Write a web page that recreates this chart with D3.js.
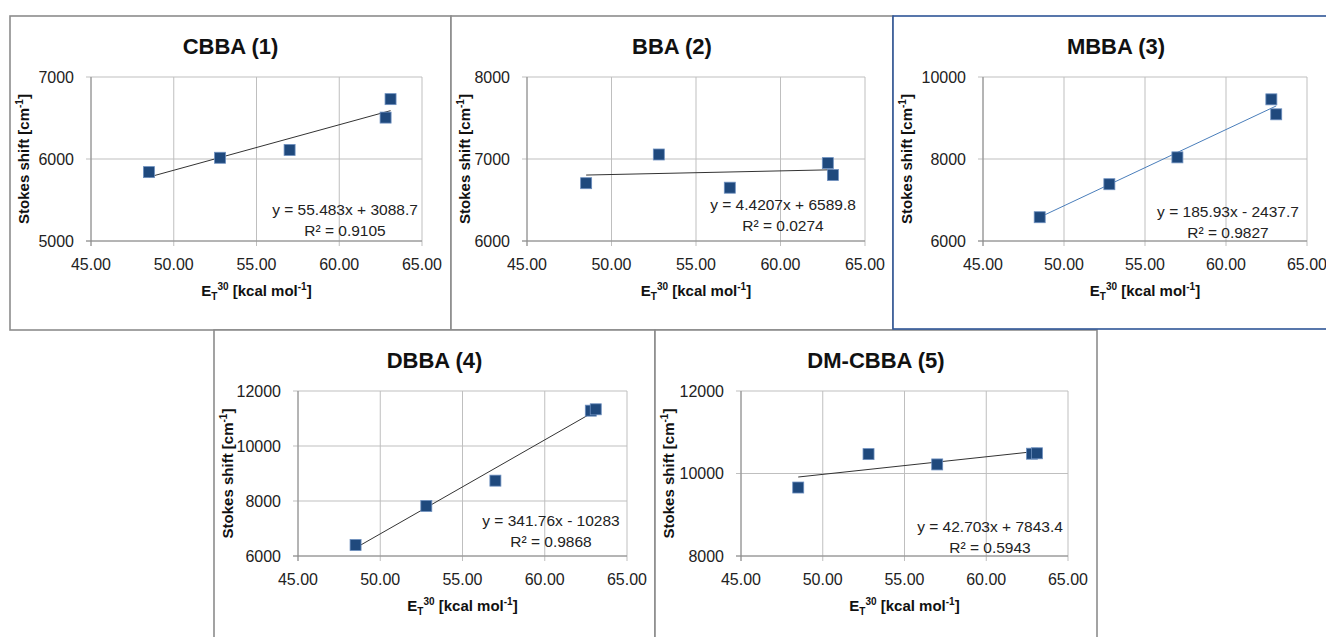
<!DOCTYPE html>
<html>
<head>
<meta charset="utf-8">
<script src="https://cdn.jsdelivr.net/npm/d3@7"></script>
<style>
  html, body { margin: 0; padding: 0; background: #fff; }
  svg { display: block; font-family: "Liberation Sans", Arial, sans-serif; }
</style>
</head>
<body>
<div id="chart"></div>
<script>
// Data
const et30 = [48.5, 52.8, 57.0, 62.8, 63.1];
const titles = ['CBBA (1)', 'BBA (2)', 'MBBA (3)', 'DBBA (4)', 'DM-CBBA (5)'];
const shiftCBBA = [5840, 6015, 6110, 6505, 6730];
const shiftBBA = [6705, 7055, 6650, 6950, 6805];
const shiftMBBA = [6580, 7385, 8040, 9455, 9090];
const shiftDBBA = [6400, 7820, 8740, 11285, 11335];
const shiftDMCBBA = [9660, 10470, 10220, 10480, 10490];
const slopes = [55.483, 4.4207, 185.93, 341.76, 42.703];
const intercepts = [3088.7, 6589.8, -2437.7, -10283, 7843.4];
const eqLabels = ['y = 55.483x + 3088.7', 'y = 4.4207x + 6589.8', 'y = 185.93x - 2437.7',
                  'y = 341.76x - 10283', 'y = 42.703x + 7843.4'];
const r2Labels = ['R² = 0.9105', 'R² = 0.0274', 'R² = 0.9827', 'R² = 0.9868', 'R² = 0.5943'];
const xTicks = [45, 50, 55, 60, 65];
const yTicks = [
    [5000, 6000, 7000],
    [6000, 7000, 8000],
    [6000, 8000, 10000],
    [6000, 8000, 10000, 12000],
    [8000, 10000, 12000]
];
const series = [shiftCBBA, shiftBBA, shiftMBBA, shiftDBBA, shiftDMCBBA];

// Layout of the five chart boxes (panel box, plot area, label offset)
const layout = [
    { box: [10, 16, 441, 314], plot: [91, 77, 331, 164], eq: [254, 138], border: '#8c8c8c', trend: '#333' },
    { box: [451, 16, 442, 314], plot: [527, 77, 338, 164], eq: [256, 133], border: '#8c8c8c', trend: '#333' },
    { box: [893, 16, 440, 313], plot: [983, 77, 324, 164], eq: [245, 140], border: '#2f5597', trend: '#4a7ebb' },
    { box: [214, 330, 441, 312], plot: [298, 391, 329, 165], eq: [253, 135], border: '#8c8c8c', trend: '#333' },
    { box: [655, 330, 442, 312], plot: [741, 391, 327, 165], eq: [249, 141], border: '#8c8c8c', trend: '#333' }
];

const W = 1326, H = 637;
const svg = d3.select('#chart')
    .append('svg')
    .attr('width', W)
    .attr('height', H);

const drawOrder = [0, 1, 3, 4, 2];

drawOrder.forEach(i => {
    const L = layout[i];
    const [bx, by, bw, bh] = L.box;
    const [px, py, pw, ph] = L.plot;
    const g = svg.append('g');

    // panel frame
    g.append('rect')
        .attr('x', bx).attr('y', by)
        .attr('width', bw).attr('height', bh)
        .attr('fill', '#fff')
        .attr('stroke', L.border)
        .attr('stroke-width', 1.6);

    const x = d3.scaleLinear().domain([45, 65]).range([px, px + pw]);
    const yd = yTicks[i];
    const y = d3.scaleLinear().domain([yd[0], yd[yd.length - 1]]).range([py + ph, py]);

    // gridlines
    g.append('g')
        .selectAll('line.gx')
        .data(xTicks)
        .join('line')
        .attr('x1', d => x(d)).attr('x2', d => x(d))
        .attr('y1', py).attr('y2', py + ph + 5)
        .attr('stroke', '#bfbfbf').attr('stroke-width', 1);
    g.append('g')
        .selectAll('line.gy')
        .data(yd)
        .join('line')
        .attr('x1', px - 5).attr('x2', px + pw)
        .attr('y1', d => y(d)).attr('y2', d => y(d))
        .attr('stroke', '#bfbfbf').attr('stroke-width', 1);

    // axis lines
    g.append('line')
        .attr('x1', px).attr('x2', px).attr('y1', py).attr('y2', py + ph + 5)
        .attr('stroke', '#8a8a8a');
    g.append('line')
        .attr('x1', px - 5).attr('x2', px + pw).attr('y1', py + ph).attr('y2', py + ph)
        .attr('stroke', '#8a8a8a');

    // tick labels
    g.selectAll('text.xt')
        .data(xTicks)
        .join('text')
        .attr('x', d => x(d))
        .attr('y', py + ph + 29)
        .attr('text-anchor', 'middle')
        .attr('font-size', 16)
        .attr('fill', '#222')
        .text(d => d3.format('.2f')(d));
    g.selectAll('text.yt')
        .data(yd)
        .join('text')
        .attr('x', px - 17)
        .attr('y', d => y(d))
        .attr('dy', '0.36em')
        .attr('text-anchor', 'end')
        .attr('font-size', 16)
        .attr('fill', '#222')
        .text(d => d);

    // trendline from the fitted equation
    const xr = d3.extent(et30);
    g.append('line')
        .attr('x1', x(xr[0])).attr('y1', y(slopes[i] * xr[0] + intercepts[i]))
        .attr('x2', x(xr[1])).attr('y2', y(slopes[i] * xr[1] + intercepts[i]))
        .attr('stroke', L.trend)
        .attr('stroke-width', 1);

    // markers
    const s = 11;
    g.selectAll('rect.pt')
        .data(et30.map((e, k) => [e, series[i][k]]))
        .join('rect')
        .attr('x', d => x(d[0]) - s / 2)
        .attr('y', d => y(d[1]) - s / 2)
        .attr('width', s).attr('height', s)
        .attr('fill', '#1f497d')
        .attr('stroke', '#6d8fbf')
        .attr('stroke-width', 0.8);

    // equation labels
    g.append('text')
        .attr('x', px + L.eq[0]).attr('y', py + L.eq[1])
        .attr('text-anchor', 'middle')
        .attr('font-size', 15.5)
        .attr('fill', '#222')
        .text(eqLabels[i]);
    g.append('text')
        .attr('x', px + L.eq[0]).attr('y', py + L.eq[1] + 21)
        .attr('text-anchor', 'middle')
        .attr('font-size', 15.5)
        .attr('fill', '#222')
        .text(r2Labels[i]);

    // title
    g.append('text')
        .attr('x', bx + bw / 2 + (i === 2 ? 3 : 0))
        .attr('y', by + 37.5)
        .attr('text-anchor', 'middle')
        .attr('font-size', 22)
        .attr('font-weight', 'bold')
        .attr('fill', '#111')
        .text(titles[i]);

    // y axis title
    const yt = g.append('text')
        .attr('transform', `translate(${bx + 19},${py + ph / 2}) rotate(-90)`)
        .attr('text-anchor', 'middle')
        .attr('font-size', 15)
        .attr('font-weight', 'bold')
        .attr('fill', '#111');
    yt.append('tspan').text('Stokes shift [cm');
    yt.append('tspan').attr('dy', -6).attr('font-size', 10).text('-1');
    yt.append('tspan').attr('dy', 6).text(']');

    // x axis title
    const xt = g.append('text')
        .attr('x', px + pw / 2)
        .attr('y', py + ph + 55)
        .attr('text-anchor', 'middle')
        .attr('font-size', 15)
        .attr('font-weight', 'bold')
        .attr('fill', '#111');
    xt.append('tspan').text('E');
    xt.append('tspan').attr('dy', 4).attr('font-size', 10).text('T');
    xt.append('tspan').attr('dy', -10).attr('font-size', 10).text('30');
    xt.append('tspan').attr('dy', 6).text(' [kcal mol');
    xt.append('tspan').attr('dy', -6).attr('font-size', 10).text('-1');
    xt.append('tspan').attr('dy', 6).text(']');
});
</script>
</body>
</html>
